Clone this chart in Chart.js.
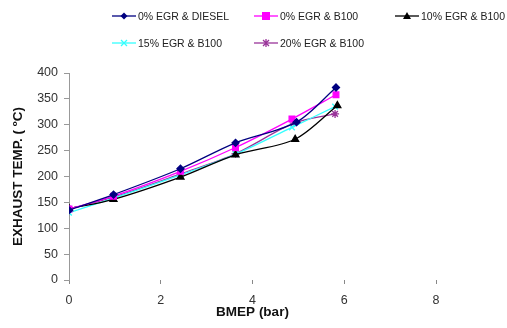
<!DOCTYPE html>
<html>
<head>
<meta charset="utf-8">
<script src="https://cdn.jsdelivr.net/npm/chart.js@4"></script>
<style>
  body { margin: 0; background: #fff; }
  #wrap { position: relative; width: 507px; height: 328px; }
  #legend { position: absolute; left: 0; top: 0; width: 507px; height: 60px; font-family: "Liberation Sans", Arial, sans-serif; font-size: 10.5px; color: #222; }
  .item { position: absolute; display: flex; align-items: center; white-space: nowrap; }
  .item svg { margin-right: 2px; }
</style>
</head>
<body>
<div id="wrap">
  <canvas id="tempChart" width="507" height="328"></canvas>
  <div id="legend"></div>
</div>
<script>
// data
const seriesNames = ['0% EGR & DIESEL', '0% EGR & B100', '10% EGR & B100', '15% EGR & B100', '20% EGR & B100'];
const bmepDiesel = [0, 0.97, 2.43, 3.63, 4.96, 5.82];
const tempDiesel = [135, 165, 215, 265, 305, 372];
const bmepB100 = [0, 0.97, 2.43, 3.63, 4.86, 5.82];
const tempB100 = [137, 162, 210, 256, 311, 358];
const bmepEgr10 = [0, 0.97, 2.43, 3.63, 4.93, 5.85];
const tempEgr10 = [138, 156, 199, 242, 272, 337];
const bmepEgr15 = [0, 0.97, 2.43, 3.63, 4.86, 5.8];
const tempEgr15 = [130, 158, 203, 243, 295, 335];
const bmepEgr20 = [0, 0.97, 2.43, 3.63, 4.9, 5.8];
const tempEgr20 = [137, 160, 205, 244, 303, 321];

const colors = ['#000080', '#ff00ff', '#000000', '#33ffff', '#993399'];
const markers = ['rectRot', 'rect', 'triangle', 'crossRot', 'star'];
const radii = [3.5, 4, 4, 4, 4];

function toPoints(xs, ys) {
    return xs.map((x, i) => ({ x: x, y: ys[i] }));
}

const allData = [
    toPoints(bmepDiesel, tempDiesel),
    toPoints(bmepB100, tempB100),
    toPoints(bmepEgr10, tempEgr10),
    toPoints(bmepEgr15, tempEgr15),
    toPoints(bmepEgr20, tempEgr20)
];

const datasets = seriesNames.map((name, i) => ({
    label: name,
    data: allData[i],
    borderColor: colors[i],
    backgroundColor: colors[i],
    borderWidth: 1.3,
    pointStyle: markers[i],
    pointRadius: radii[i],
    pointBorderWidth: 1.3,
    tension: 0.3,
    fill: false
}));

const tickFont = { family: 'Liberation Sans', size: 12.5 };
const titleFont = { family: 'Liberation Sans', size: 13.5, weight: 'bold' };

const ctx = document.getElementById('tempChart').getContext('2d');
const tempChart = new Chart(ctx, {
    type: 'line',
    data: { datasets: datasets },
    options: {
        responsive: false,
        animation: false,
        layout: { padding: { top: 73, right: 71, left: 0, bottom: 0 } },
        plugins: { legend: { display: false }, tooltip: { enabled: false } },
        scales: {
            x: {
                type: 'linear',
                min: 0,
                max: 8,
                afterFit: (axis) => { axis.height = 48; },
                border: { display: false },
                grid: { drawOnChartArea: false, tickLength: 4, color: '#888' },
                ticks: { stepSize: 2, color: '#333', padding: 9, font: tickFont },
                title: { display: true, text: 'BMEP (bar)', color: '#111', padding: { top: 0, bottom: 8 }, font: titleFont }
            },
            y: {
                min: 0,
                max: 400,
                afterFit: (axis) => { axis.width = 69; },
                ticks: { stepSize: 50, color: '#333', padding: 6, font: tickFont },
                border: { display: true, color: '#999' },
                grid: { drawOnChartArea: false, tickLength: 5, color: '#999' },
                title: { display: true, text: 'EXHAUST TEMP. ( ºC)', color: '#111', padding: { top: 10, bottom: 0 }, font: titleFont }
            }
        }
    }
});

// legend laid out like the original, two rows
const legendPos = [[112, 16], [254, 16], [395, 16], [112, 43], [254, 43]];
const legendEl = document.getElementById('legend');

function markerSvg(i) {
    const c = colors[i];
    let m = '';
    if (markers[i] === 'rectRot') m = `<polygon points="12,0.5 15.5,4 12,7.5 8.5,4" fill="${c}"/>`;
    else if (markers[i] === 'rect') m = `<rect x="8" y="0" width="8" height="8" fill="${c}"/>`;
    else if (markers[i] === 'triangle') m = `<polygon points="12,0 16,7 8,7" fill="${c}"/>`;
    else if (markers[i] === 'crossRot') m = `<path d="M9,1 L15,7 M15,1 L9,7" stroke="${c}" stroke-width="1.3"/>`;
    else m = `<path d="M9,1 L15,7 M15,1 L9,7 M12,0 L12,8" stroke="${c}" stroke-width="1.3"/>`;
    return `<svg width="24" height="8"><line x1="0" y1="4" x2="24" y2="4" stroke="${c}" stroke-width="1.3"/>${m}</svg>`;
}

seriesNames.forEach((name, i) => {
    const div = document.createElement('div');
    div.className = 'item';
    div.style.left = legendPos[i][0] + 'px';
    div.style.top = (legendPos[i][1] - 6) + 'px';
    div.innerHTML = markerSvg(i) + '<span>' + name + '</span>';
    legendEl.appendChild(div);
});
</script>
</body>
</html>
